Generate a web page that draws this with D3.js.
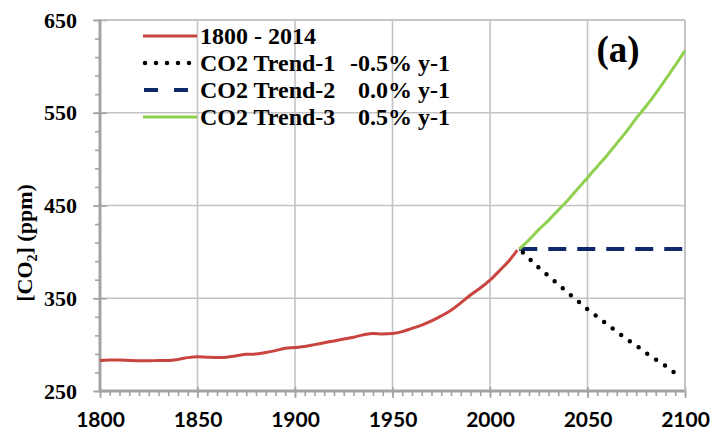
<!DOCTYPE html>
<html><head><meta charset="utf-8">
<script src="https://cdn.jsdelivr.net/npm/d3@7"></script>
<style>
html,body{margin:0;padding:0;background:#fff;}
svg{display:block;}
</style></head>
<body>
<svg id="chart" width="710" height="432"></svg>
<script>
// ---- data ----
const histYears = [1800,1805,1810,1815,1820,1825,1830,1835,1840,1845,1850,1855,1860,1865,1870,1875,1880,1885,1890,1895,1900,1905,1910,1915,1920,1925,1930,1935,1940,1945,1950,1955,1960,1965,1970,1975,1980,1985,1990,1995,2000,2005,2010,2014];
const histCO2   = [283,283.5,283.5,283,282.5,282.5,283,283,284,286,287,286.5,286,286.5,288,289.5,290,291.5,293.5,296,297,298,300,302,304,306,308,310.5,312,311.5,312,314,317.5,321,325.5,331,337,345,353.5,361,369.5,380,391,402];
const trendYears = [2015,2020,2025,2030,2035,2040,2045,2050,2055,2060,2065,2070,2075,2080,2085,2090,2095,2100];
const trend1 = [403,393,383,374,365,356,347,338,330,322,314,306,299,291,284,277,269];           // -0.5% y-1 (ends 2095)
const trend2 = [403,403,403,403,403,403,403,403,403,403,403,403,403,403,403,403,403,403];   // 0.0% y-1
const trend3 = [403,413,424,434,445,456,468,480,492,504,517,530,544,557,571,586,601,617];   // 0.5% y-1
const yTicks = [250,350,450,550,650];
const xTicks = [1800,1850,1900,1950,2000,2050,2100];
const legendLabels = ["1800 - 2014","CO2 Trend-1","CO2 Trend-2","CO2 Trend-3"];
const legendRates = ["","-0.5% y-1","0.0% y-1","0.5% y-1"];

// ---- layout ----
const svg = d3.select("#chart");
const L = 100, R = 685, T = 20, B = 391;
const x = d3.scaleLinear().domain([1800,2100]).range([L,R]);
const y = d3.scaleLinear().domain([250,650]).range([B,T]);
const gridCol = "#c3c3c3", axisCol = "#a3a3a3";
const serif = "'Liberation Serif','DejaVu Serif',serif";

// gridlines
svg.append("g").selectAll("line").data(xTicks.slice(1)).join("line")
  .attr("x1", d=>x(d)).attr("x2", d=>x(d)).attr("y1", T).attr("y2", B)
  .attr("stroke", gridCol).attr("stroke-width", 1.6);
svg.append("g").selectAll("line").data(yTicks.slice(1)).join("line")
  .attr("x1", L).attr("x2", R).attr("y1", d=>y(d)).attr("y2", d=>y(d))
  .attr("stroke", gridCol).attr("stroke-width", 1.6);

// axes
function styleAxis(g){ g.select(".domain").remove(); g.selectAll(".tick line").attr("stroke", axisCol).attr("stroke-width", 1.6); }
svg.append("g").attr("transform",`translate(${L},0)`)
  .call(d3.axisLeft(y).tickValues(d3.range(250,651,20)).tickSize(5).tickFormat(""))
  .call(styleAxis);
svg.append("g").attr("transform",`translate(${L},0)`)
  .call(d3.axisRight(y).tickValues(yTicks).tickSize(7).tickFormat(""))
  .call(styleAxis);
const yAx = svg.append("g").attr("transform",`translate(${L},0)`)
  .call(d3.axisLeft(y).tickValues(yTicks).tickSize(7).tickPadding(16).tickFormat(d3.format("d")))
  .call(styleAxis);
yAx.selectAll("text").attr("font-family", serif).attr("font-weight","bold").attr("font-size","22px").attr("fill","#000");

svg.append("g").attr("transform",`translate(0,${B})`)
  .call(d3.axisBottom(x).tickValues(d3.range(1800,2101,5)).tickSize(5).tickFormat(""))
  .call(styleAxis);
svg.append("g").attr("transform",`translate(0,${B})`)
  .call(d3.axisTop(x).tickValues(xTicks).tickSize(4).tickFormat(""))
  .call(styleAxis);
const xAx = svg.append("g").attr("transform",`translate(0,${B})`)
  .call(d3.axisBottom(x).tickValues(xTicks).tickSize(7).tickPadding(14).tickFormat(d3.format("d")))
  .call(styleAxis);
xAx.selectAll("text").attr("font-family","Lato,'Open Sans',sans-serif").attr("font-weight","bold").attr("font-size","21px").attr("fill","#000");

// axis lines and border
svg.append("line").attr("x1",L).attr("x2",L).attr("y1",T-1).attr("y2",B+1).attr("stroke",axisCol).attr("stroke-width",3);
svg.append("line").attr("x1",L-1).attr("x2",R+1).attr("y1",B).attr("y2",B).attr("stroke",axisCol).attr("stroke-width",3);
svg.append("line").attr("x1",L).attr("x2",R).attr("y1",T).attr("y2",T).attr("stroke",gridCol).attr("stroke-width",1.6);
svg.append("line").attr("x1",R).attr("x2",R).attr("y1",T).attr("y2",B).attr("stroke",gridCol).attr("stroke-width",1.6);

// y axis title
svg.append("text").attr("transform","translate(32,243) rotate(-90)")
  .attr("text-anchor","middle").attr("font-family",serif).attr("font-weight","bold").attr("font-size","22px")
  .call(t=>{ t.append("tspan").text("[CO");
             t.append("tspan").attr("font-size","14px").attr("dy",5).text("2");
             t.append("tspan").attr("dy",-5).text("] (ppm)"); });

// lines
const line = d3.line().x(d=>x(d[0])).y(d=>y(d[1])).curve(d3.curveMonotoneX);
const zip = (xs, ys) => ys.map((v,i)=>[xs[i], v]);
const cRed = "#c9443f", cBlue = "#0f2a6b", cGreen = "#8fd14f";
svg.append("path").attr("d", line(zip(histYears,histCO2))).attr("fill","none").attr("stroke",cRed).attr("stroke-width",3);
svg.append("path").attr("d", line(zip(trendYears,trend2))).attr("fill","none").attr("stroke",cBlue).attr("stroke-width",4).attr("stroke-dasharray","18,11");
svg.append("path").attr("d", line(zip(trendYears,trend1))).attr("fill","none").attr("stroke","#000").attr("stroke-width",4.5).attr("stroke-linecap","round").attr("stroke-dasharray","0,10.7").attr("stroke-dashoffset",-5);
svg.append("path").attr("d", line(zip(trendYears,trend3))).attr("fill","none").attr("stroke",cGreen).attr("stroke-width",3);

// legend
const lg = svg.append("g");
const rowsY = [36,63,90,117];
lg.append("line").attr("x1",143).attr("x2",197).attr("y1",rowsY[0]).attr("y2",rowsY[0]).attr("stroke",cRed).attr("stroke-width",3);
lg.append("line").attr("x1",145).attr("x2",190).attr("y1",rowsY[1]).attr("y2",rowsY[1]).attr("stroke","#000").attr("stroke-width",4.5).attr("stroke-linecap","round").attr("stroke-dasharray","0,11");
lg.append("line").attr("x1",144).attr("x2",190).attr("y1",rowsY[2]).attr("y2",rowsY[2]).attr("stroke",cBlue).attr("stroke-width",4).attr("stroke-dasharray","14,16");
lg.append("line").attr("x1",143).attr("x2",197).attr("y1",rowsY[3]).attr("y2",rowsY[3]).attr("stroke",cGreen).attr("stroke-width",3);
lg.selectAll("text.lab").data(legendLabels).join("text").attr("class","lab")
  .attr("x",200).attr("y",(d,i)=>rowsY[i]+8).attr("font-family",serif).attr("font-weight","bold").attr("font-size","24px").text(d=>d);
lg.selectAll("text.rate").data(legendRates).join("text").attr("class","rate")
  .attr("x",450).attr("y",(d,i)=>rowsY[i]+8).attr("text-anchor","end").attr("font-family",serif).attr("font-weight","bold").attr("font-size","24px").text(d=>d);

// panel label
svg.append("text").attr("x",618).attr("y",62).attr("text-anchor","middle").attr("font-family",serif).attr("font-weight","bold").attr("font-size","37px").text("(a)");
</script>
</body></html>
